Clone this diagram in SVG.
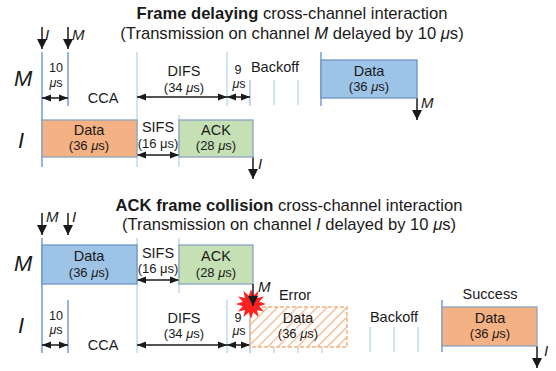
<svg xmlns="http://www.w3.org/2000/svg" width="556" height="371" viewBox="0 0 556 371">
<defs>
<marker id="ah" viewBox="0 0 10 8" refX="10" refY="4" markerWidth="9" markerHeight="7.5" markerUnits="userSpaceOnUse" orient="auto-start-reverse">
<path d="M0,0 L10,4 L0,8 z" fill="#1a1a1a"/>
</marker>
<marker id="dh" viewBox="0 0 10 10" refX="10" refY="5" markerWidth="10" markerHeight="10" markerUnits="userSpaceOnUse" orient="auto">
<path d="M0,0 L10,5 L0,10 z" fill="#1a1a1a"/>
</marker>
<pattern id="hatch" patternUnits="userSpaceOnUse" width="7" height="7" patternTransform="rotate(45)">
<line x1="0" y1="0" x2="0" y2="7" stroke="#f4b183" stroke-width="2.4"/>
</pattern>
</defs>
<style>
text{font-family:"Liberation Sans",Arial,sans-serif;fill:#1a1a1a}
.t{font-size:16.6px;text-anchor:middle}
.b{font-weight:bold}
.l{font-size:14.5px;text-anchor:middle}
.s{font-size:13px;text-anchor:middle}
.m{font-size:12.5px;text-anchor:middle}
.big{font-size:22px;font-style:italic}
.it{font-style:italic}
.ax{font-size:15px;font-style:italic}
.vd{stroke:#5b8fd0;stroke-width:1.3}
.vl{stroke:#bcd3ec;stroke-width:1.3}
.arr{stroke:#1a1a1a;stroke-width:1.5;fill:none}
.down{stroke:#1a1a1a;stroke-width:1.5;fill:none;marker-end:url(#dh)}
.blue{fill:#9dc3e6;stroke:#6d94c4;stroke-width:1.3}
.orange{fill:#f4b183;stroke:#8aa4c4;stroke-width:1.3}
.green{fill:#c5e0b4;stroke:#8aa4c4;stroke-width:1.3}
</style>

<g id="titles">
<text class="t" x="292" y="19"><tspan class="b">Frame delaying</tspan> cross-channel interaction</text>
<text class="t" x="292" y="39">(Transmission on channel <tspan class="it">M</tspan> delayed by 10 <tspan class="it">μ</tspan>s)</text>
<text class="t" x="289" y="211"><tspan class="b">ACK frame collision</tspan> cross-channel interaction</text>
<text class="t" x="289" y="230">(Transmission on channel <tspan class="it">I</tspan> delayed by 10 <tspan class="it">μ</tspan>s)</text>
</g>

<g id="row-labels">
<text class="big" x="14" y="86">M</text>
<text class="big" x="18" y="148">I</text>
<text class="big" x="14" y="271">M</text>
<text class="big" x="18" y="333">I</text>
</g>

<g id="connectors">
<line class="vd" x1="42" y1="52" x2="42" y2="167"/>
<line class="vd" x1="68" y1="52" x2="68" y2="106"/>
<line class="vl" x1="137" y1="52" x2="137" y2="167"/>
<line class="vl" x1="179" y1="115" x2="179" y2="167"/>
<line class="vl" x1="227" y1="52" x2="227" y2="106"/>
<line class="vd" x1="250" y1="80" x2="250" y2="106" style="stroke:#9fc0e6"/>
<line class="vl" x1="274" y1="80" x2="274" y2="105"/>
<line class="vl" x1="298" y1="80" x2="298" y2="105"/>
<line class="vd" x1="321" y1="52" x2="321" y2="106"/>
<line class="down" x1="42" y1="27" x2="42" y2="49"/>
<line class="down" x1="68" y1="27" x2="68" y2="49"/>
<line class="arr" x1="42" y1="98" x2="68" y2="98" marker-start="url(#ah)" marker-end="url(#ah)"/>
<line class="arr" x1="137" y1="97" x2="227" y2="97" marker-start="url(#ah)" marker-end="url(#ah)"/>
<line class="arr" x1="227" y1="97" x2="250" y2="97" marker-start="url(#ah)" marker-end="url(#ah)"/>
<line class="arr" x1="137" y1="155" x2="179" y2="155" marker-start="url(#ah)" marker-end="url(#ah)"/>
<line class="down" x1="417" y1="98" x2="417" y2="120"/>
<line class="down" x1="253" y1="157" x2="253" y2="179"/>

<line class="vd" x1="42" y1="238" x2="42" y2="353"/>
<line class="vl" x1="137" y1="238" x2="137" y2="353"/>
<line class="vl" x1="179" y1="238" x2="179" y2="293"/>
<line class="vd" x1="68" y1="300" x2="68" y2="353"/>
<line class="vl" x1="227" y1="300" x2="227" y2="353"/>
<line class="vd" x1="250" y1="300" x2="250" y2="353" style="stroke:#9fc0e6"/>
<line class="vl" x1="274" y1="347" x2="274" y2="353"/>
<line class="vl" x1="298" y1="347" x2="298" y2="353"/>
<line class="vl" x1="322" y1="347" x2="322" y2="353"/>
<line class="vl" x1="370" y1="327" x2="370" y2="352"/>
<line class="vl" x1="394" y1="327" x2="394" y2="352"/>
<line class="vl" x1="418" y1="327" x2="418" y2="352"/>
<line class="vd" x1="442" y1="300" x2="442" y2="352"/>
<line class="down" x1="42" y1="213" x2="42" y2="235"/>
<line class="down" x1="68" y1="213" x2="68" y2="235"/>
<line class="arr" x1="137" y1="280" x2="179" y2="280" marker-start="url(#ah)" marker-end="url(#ah)"/>
<line class="arr" x1="42" y1="345" x2="68" y2="345" marker-start="url(#ah)" marker-end="url(#ah)"/>
<line class="arr" x1="137" y1="345" x2="227" y2="345" marker-start="url(#ah)" marker-end="url(#ah)"/>
<line class="arr" x1="227" y1="345" x2="250" y2="345" marker-start="url(#ah)" marker-end="url(#ah)"/>
<line class="down" x1="537" y1="346" x2="537" y2="368"/>
</g>

<g id="top-labels">
<text class="ax" x="45" y="40">I</text>
<text class="ax" x="72" y="40">M</text>
<text class="m" x="56" y="72">10</text>
<text class="m" x="56" y="87"><tspan class="it">μ</tspan>s</text>
<text class="l" x="103" y="103">CCA</text>
<text class="l" x="184" y="76">DIFS</text>
<text class="s" x="184" y="92">(34 <tspan class="it">μ</tspan>s)</text>
<text class="m" x="238" y="74">9</text>
<text class="m" x="239" y="88"><tspan class="it">μ</tspan>s</text>
<text class="l" x="275" y="72">Backoff</text>
<text class="ax" x="421" y="108">M</text>
<text class="l" x="158" y="132">SIFS</text>
<text class="s" x="158" y="148">(16 μs)</text>
<text class="ax" x="258" y="169">I</text>
</g>

<g id="top-M-data">
<rect class="blue" x="321" y="60" width="96" height="38"/>
<text class="l" x="369" y="76">Data</text>
<text class="s" x="369" y="91">(36 <tspan class="it">μ</tspan>s)</text>
</g>
<g id="top-I-data">
<rect class="orange" x="42" y="120" width="95" height="37"/>
<text class="l" x="89" y="135">Data</text>
<text class="s" x="89" y="150">(36 <tspan class="it">μ</tspan>s)</text>
</g>
<g id="top-I-ack">
<rect class="green" x="179" y="120" width="74" height="37"/>
<text class="l" x="216" y="135">ACK</text>
<text class="s" x="216" y="150">(28 <tspan class="it">μ</tspan>s)</text>
</g>

<g id="bottom-labels">
<text class="ax" x="46" y="222">M</text>
<text class="ax" x="72" y="222">I</text>
<text class="l" x="158" y="258">SIFS</text>
<text class="s" x="158" y="273">(16 μs)</text>
<text class="m" x="56" y="320">10</text>
<text class="m" x="56" y="334"><tspan class="it">μ</tspan>s</text>
<text class="l" x="103" y="350">CCA</text>
<text class="l" x="184" y="323">DIFS</text>
<text class="s" x="184" y="338">(34 <tspan class="it">μ</tspan>s)</text>
<text class="m" x="238" y="322">9</text>
<text class="m" x="239" y="335"><tspan class="it">μ</tspan>s</text>
<text class="l" x="295" y="300">Error</text>
<text class="l" x="394" y="322">Backoff</text>
<text class="l" x="490" y="299">Success</text>
<text class="ax" x="544" y="356">I</text>
</g>

<g id="bottom-M-data">
<rect class="blue" x="42" y="245" width="95" height="39"/>
<text class="l" x="89" y="261">Data</text>
<text class="s" x="89" y="277">(36 <tspan class="it">μ</tspan>s)</text>
</g>
<g id="bottom-M-ack">
<rect class="green" x="179" y="245" width="74" height="39"/>
<text class="l" x="216" y="261">ACK</text>
<text class="s" x="216" y="277">(28 <tspan class="it">μ</tspan>s)</text>
</g>
<g id="bottom-I-error-data">
<rect x="250" y="307" width="97" height="40" fill="url(#hatch)" stroke="#f4b183" stroke-width="1.5" stroke-dasharray="4 2"/>
<text class="l" x="298" y="323">Data</text>
<text class="s" x="298" y="338">(36 <tspan class="it">μ</tspan>s)</text>
</g>
<g id="bottom-I-success-data">
<rect class="orange" x="442" y="307" width="95" height="39"/>
<text class="l" x="490" y="323">Data</text>
<text class="s" x="490" y="338">(36 <tspan class="it">μ</tspan>s)</text>
</g>
<g id="collision">
<polygon fill="#ff2020" points="266,304 259.2,306.2 264,311.5 257,310 258.5,317 253.2,312.2 251,319 248.8,312.2 243.5,317 245,310 238,311.5 242.8,306.2 236,304 242.8,301.8 238,296.5 245,298 243.5,291 248.8,295.8 251,289 253.2,295.8 258.5,291 257,298 264,296.5 259.2,301.8"/>
<line class="down" x1="253" y1="284" x2="253" y2="306"/>
<text class="ax" x="258" y="292">M</text>
</g>
</svg>
